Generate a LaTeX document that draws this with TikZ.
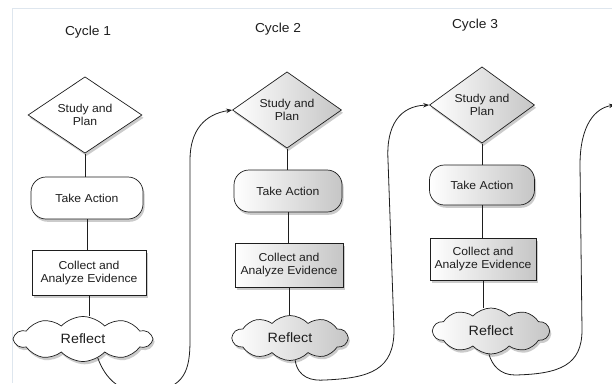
\documentclass[tikz,border=0pt]{standalone}
\usepackage{fontspec}
\setmainfont{Liberation Sans}[FakeStretch=1.06]
\usetikzlibrary{shapes.geometric,shapes.symbols,shadows,arrows.meta}
\definecolor{ink}{RGB}{30,30,30}
\definecolor{frame}{RGB}{222,230,238}
\tikzset{
  base/.style={draw=ink, line width=0.7pt, text=ink, align=center, inner sep=0pt,
    font=\fontsize{11.5}{13}\selectfont,
    drop shadow={shadow xshift=1.6pt, shadow yshift=-2.8pt, opacity=0.5, fill=gray!80}},
  plainfill/.style={fill=white},
  shadefill/.style={left color=white, right color=gray!45},
  decide/.style={base, diamond, minimum width=#1, minimum height=68pt},
  act/.style={base, rectangle, rounded corners=15pt, minimum height=42pt},
  evid/.style={base, rectangle, minimum height=44pt},
  refl/.style={base, cloud, cloud puffs=10, cloud puff arc=95, cloud ignores aspect,
    minimum height=45pt, font=\fontsize{13.5}{15}\selectfont},
  cyc/.style={text=ink, font=\fontsize{13}{15}\selectfont},
  link/.style={draw=ink, line width=0.7pt},
  loop/.style={draw=ink, line width=0.8pt, -{Stealth[length=6pt,width=4.5pt]}}
}
\begin{document}
\begin{tikzpicture}[x=1pt,y=-1pt]
\useasboundingbox (0,0) rectangle (612,383);
\fill[white] (0,0) rectangle (612,383);
\clip (0,0) rectangle (612,383);
\draw[frame, line width=1pt] (12,383) -- (12,8) -- (612,8);

% Cycle 1
\node[cyc] (L1) at (88,32) {Cycle 1};
\node[decide=114pt, plainfill] (d1) at (85,115) {Study and\\Plan};
\node[act, plainfill, minimum width=112pt] (t1) at (87,198) {Take Action};
\node[evid, plainfill, minimum width=114pt, minimum height=45pt] (c1) at (89,273) {Collect and\\Analyze Evidence};
\node[refl, plainfill, minimum width=137pt] (r1) at (83,339) {Reflect};

% Cycle 2
\node[cyc] (L2) at (278,29) {Cycle 2};
\node[decide=109pt, shadefill] (d2) at (287,110) {Study and\\Plan};
\node[act, shadefill, minimum width=108pt] (t2) at (288,191) {Take Action};
\node[evid, shadefill, minimum width=108pt] (c2) at (289,265) {Collect and\\Analyze Evidence};
\node[refl, shadefill, minimum width=115pt] (r2) at (290,338) {Reflect};

% Cycle 3
\node[cyc] (L3) at (475,25) {Cycle 3};
\node[decide=105pt, shadefill, minimum height=66pt] (d3) at (482,105) {Study and\\Plan};
\node[act, shadefill, minimum width=105pt, minimum height=40pt] (t3) at (482,185) {Take Action};
\node[evid, shadefill, minimum width=106pt, minimum height=42pt] (c3) at (483,259) {Collect and\\Analyze Evidence};
\node[refl, shadefill, minimum width=116pt, minimum height=46pt] (r3) at (491,331) {Reflect};

\coordinate (e3) at (615,105);

% vertical links
\foreach \i in {1,2,3}{
  \draw[link] (d\i.south) -- (d\i.south |- t\i.north);
  \draw[link] (t\i.south) -- (t\i.south |- c\i.north);
  \draw[link] (c\i.south) -- (c\i.south |- r\i.north);
}

% loops
\draw[loop] (r1.-52) .. controls (105,378) and (120,395) .. (150,392)
  .. controls (185,388) and (190,370) .. (190,340) -- (190,160)
  .. controls (190,130) and (205,114) .. (d2.west);
\draw[loop] (r2.-77) .. controls (298,378) and (312,381) .. (325,380)
  .. controls (370,378) and (394,370) .. (394,330) -- (388,160)
  .. controls (386,125) and (400,106) .. (d3.west);
\draw[loop] (r3.-95) .. controls (492,365) and (500,375) .. (515,375)
  .. controls (560,374) and (582,365) .. (582,330) -- (580,165)
  .. controls (580,125) and (595,108) .. (e3);
\end{tikzpicture}
\end{document}
